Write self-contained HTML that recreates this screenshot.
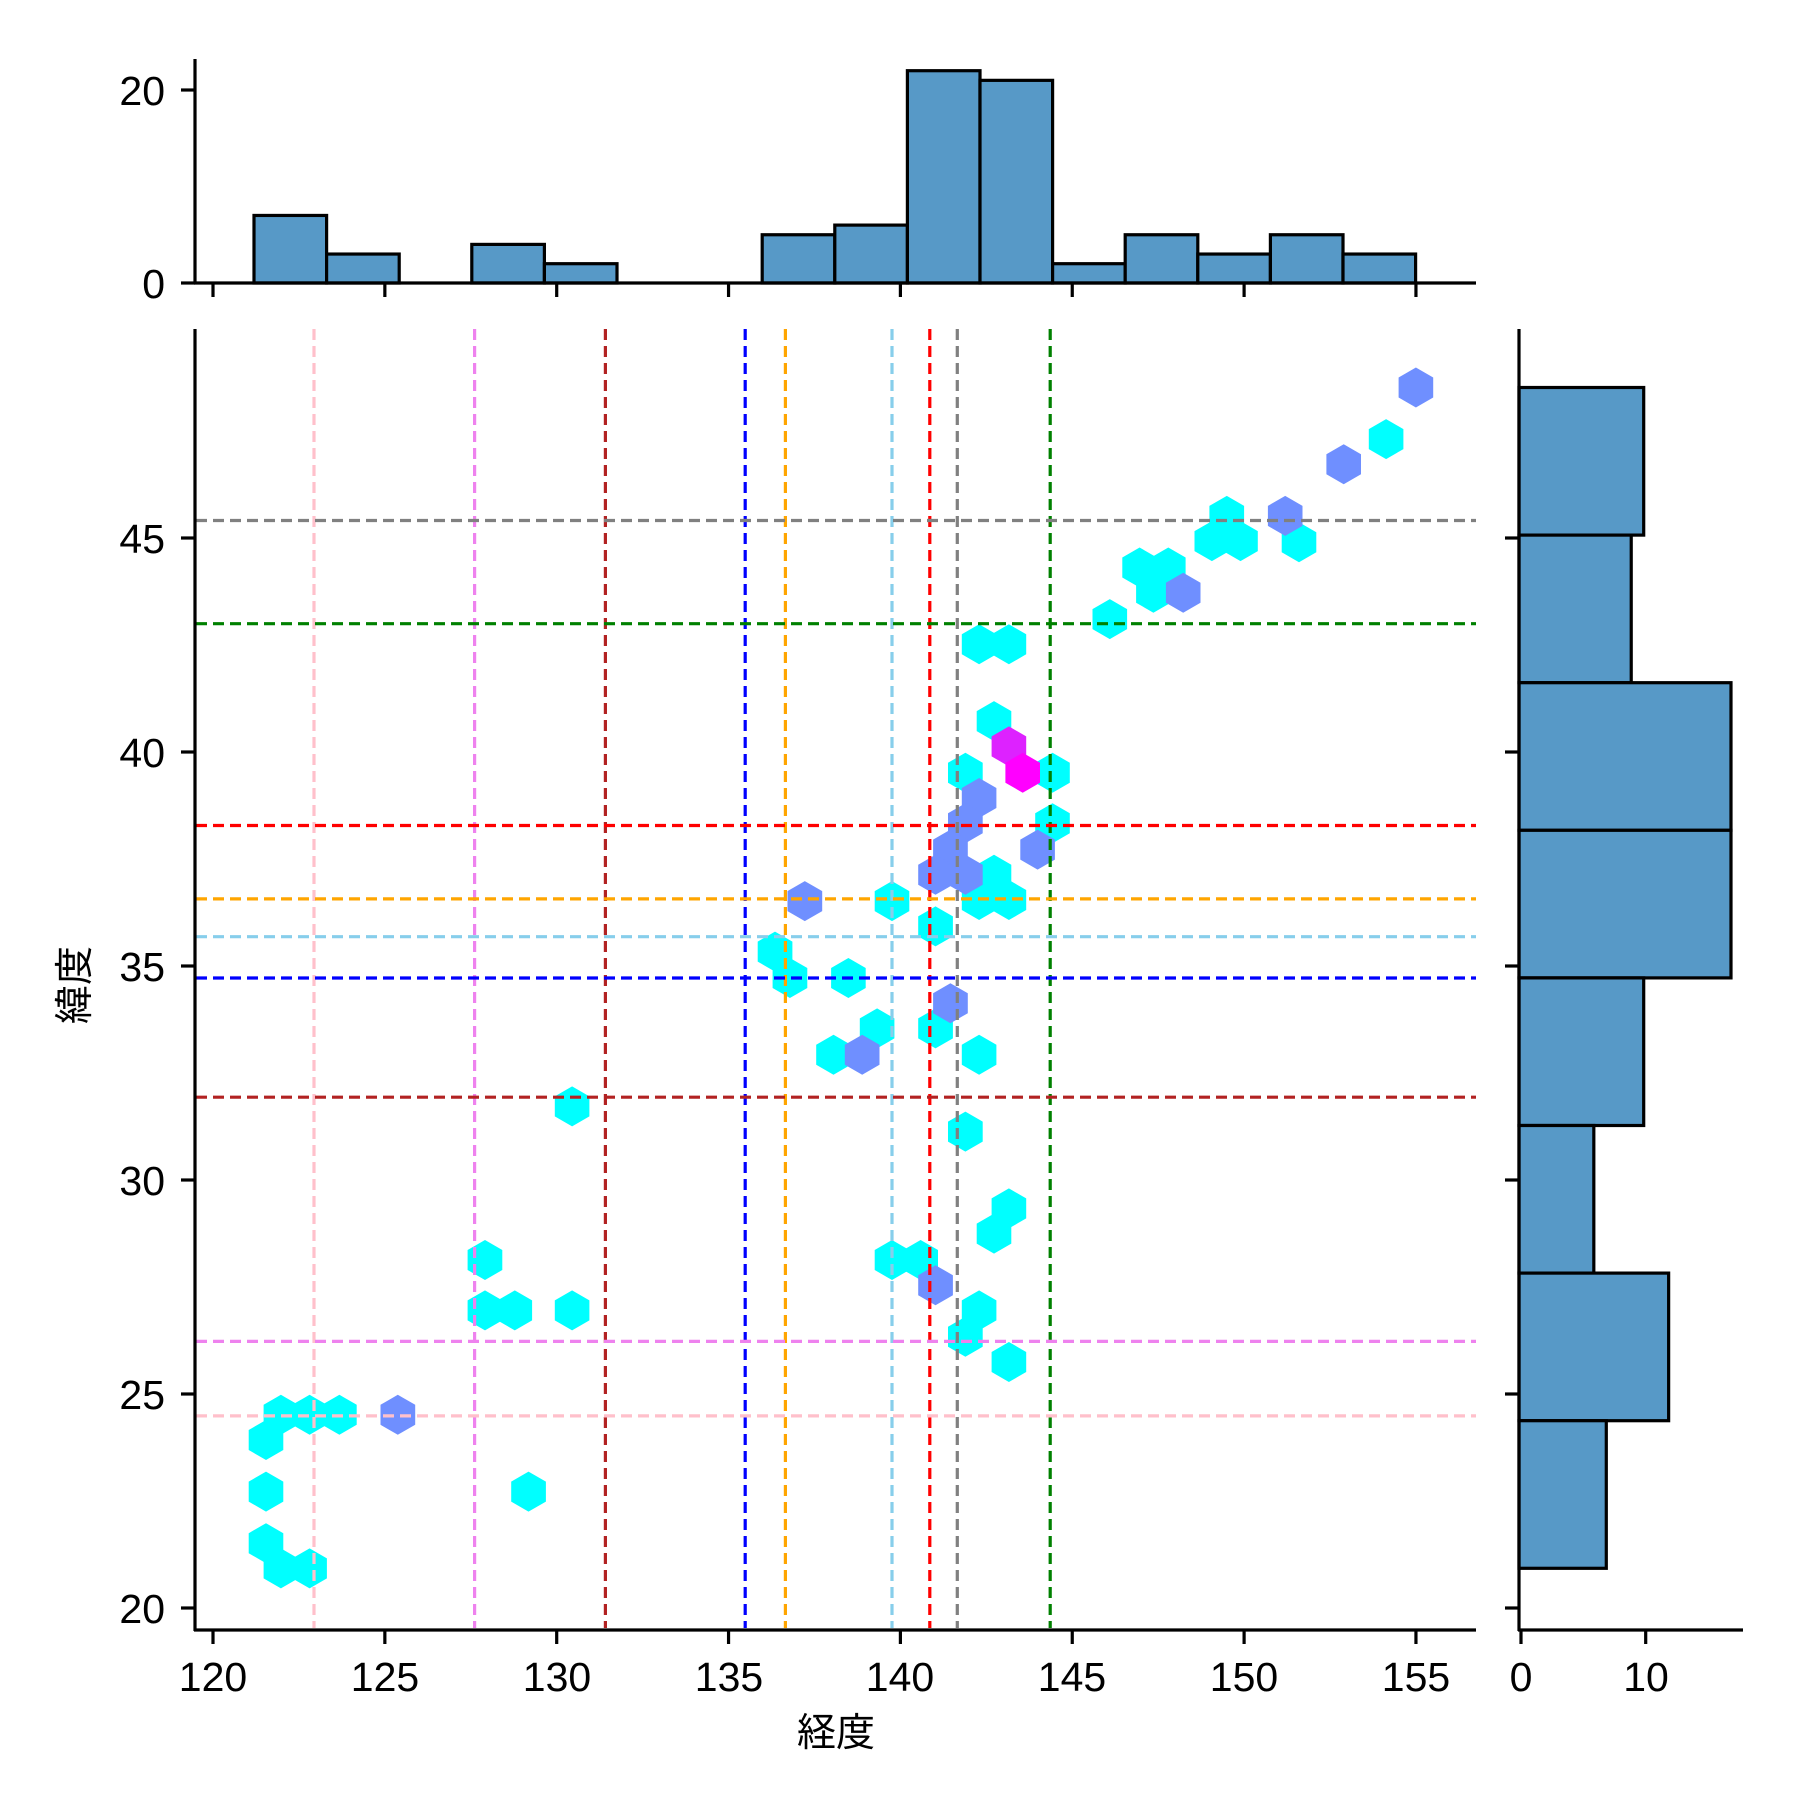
<!DOCTYPE html>
<html><head><meta charset="utf-8"><style>
html,body{margin:0;padding:0;background:#fff}
svg{display:block}
text{font-family:"Liberation Sans","Noto Sans CJK JP",sans-serif;font-size:41px;fill:#000}
</style></head><body>
<svg id="s" width="1800" height="1800" xmlns="http://www.w3.org/2000/svg">
<g id="hex"></g>
<g id="lines" stroke-width="3.2" stroke-dasharray="11,6" fill="none"></g>
<g id="bars" fill="#5799c7" stroke="#000" stroke-width="3.2"></g>
<g id="axes" stroke="#000" stroke-width="3.2" fill="none"></g>
<g text-anchor="middle">
<text x="213" y="1691">120</text><text x="385" y="1691">125</text><text x="557" y="1691">130</text><text x="729" y="1691">135</text><text x="900" y="1691">140</text><text x="1072" y="1691">145</text><text x="1244" y="1691">150</text><text x="1416" y="1691">155</text>
<text x="1521" y="1691">0</text><text x="1646" y="1691">10</text>
<text x="836" y="1746" style="font-size:39px">経度</text>
<text transform="translate(88,985) rotate(-90)" style="font-size:39px">緯度</text>
</g>
<g text-anchor="end">
<text x="165" y="1623">20</text><text x="165" y="1409">25</text><text x="165" y="1195">30</text><text x="165" y="981">35</text><text x="165" y="767">40</text><text x="165" y="553">45</text>
<text x="165" y="105">20</text><text x="165" y="298">0</text>
</g>
</svg>
<script>
var NS="http://www.w3.org/2000/svg";
function el(p,t,a){var e=document.createElementNS(NS,t);for(var k in a)e.setAttribute(k,a[k]);document.getElementById(p).appendChild(e);return e;}
var S=1.1465,R=20;
function hex(x,y,c){x*=S;y*=S;var pts=[];for(var i=0;i<6;i++){var a=Math.PI/3*i-Math.PI/2;pts.push((x+R*Math.cos(a)).toFixed(1)+","+(y+R*Math.sin(a)).toFixed(1));}el("hex","polygon",{points:pts.join(" "),fill:c});}
var cy=[[1209,383],[1070,450],[1057,472],[1082,472],[1133,473],[994,495],[1019,495],[1006,517],[968,540],[854,562],[880,562],[867,629],[842,674],[918,674],[918,718],[867,763],[854,785],[880,785],[778,786],[816,808],[676,830],[689,853],[765,897],[816,897],[727,920],[854,920],[842,987],[499,965],[880,1054],[867,1076],[423,1099],[778,1099],[803,1099],[423,1143],[449,1143],[499,1143],[854,1143],[842,1166],[880,1188],[245,1234],[270,1234],[296,1234],[232,1256],[232,1301],[461,1301],[232,1346],[245,1368],[270,1368],[740,853]];
cy.forEach(function(p){hex(p[0],p[1],"#00ffff")});
var bl=[[1235,338],[1172,405],[1121,450],[1032,517],[854,696],[842,718],[829,741],[816,763],[842,763],[905,741],[702,786],[829,875],[752,920],[816,1121],[347,1234]];
bl.forEach(function(p){hex(p[0],p[1],"#6f8fff")});
hex(880,651,"#dd22ff");hex(892,674,"#ff00ff");
var vl=[[314,"pink"],[474.6,"violet"],[605.4,"#b22222"],[745.2,"blue"],[785.4,"orange"],[892,"skyblue"],[929.8,"red"],[957.3,"gray"],[1050.2,"green"]];
vl.forEach(function(v){el("lines","line",{x1:v[0],x2:v[0],y1:329,y2:1628,stroke:v[1]})});
var hl=[[520.5,"gray"],[623.7,"green"],[825.5,"red"],[898.9,"orange"],[936.7,"skyblue"],[978,"blue"],[1097.2,"#b22222"],[1341.4,"violet"],[1415.9,"pink"]];
hl.forEach(function(v){el("lines","line",{x1:196,x2:1476,y1:v[0],y2:v[0],stroke:v[1]})});
var tc=[7,3,0,4,2,0,0,5,6,22,21,2,5,3,5,3];
tc.forEach(function(c,i){if(c>0)el("bars","rect",{x:254+i*72.6,y:283-c*9.65,width:72.6,height:c*9.65});});
var rc=[10,9,17,17,10,6,12,7];
rc.forEach(function(c,i){el("bars","rect",{x:1519,y:387.5+i*147.6,width:c*12.47,height:147.6});});
var ax=[[195,329,195,1631],[194,1630,1476,1630],[195,59,195,284],[194,283,1476,283],[1519,329,1519,1631],[1518,1630,1743,1630]];
ax.forEach(function(a){el("axes","line",{x1:a[0],y1:a[1],x2:a[2],y2:a[3]})});
for(var v=120;v<=155;v+=5){var x=213+(v-120)*34.37;el("axes","line",{x1:x,x2:x,y1:1630,y2:1644});el("axes","line",{x1:x,x2:x,y1:283,y2:297});}
for(var v=20;v<=45;v+=5){var y=1608-(v-20)*42.8;el("axes","line",{x1:181,x2:195,y1:y,y2:y});el("axes","line",{x1:1505,x2:1519,y1:y,y2:y});}
[[90],[283]].forEach(function(t){el("axes","line",{x1:181,x2:195,y1:t[0],y2:t[0]})});
[1521,1645.7].forEach(function(x){el("axes","line",{x1:x,x2:x,y1:1630,y2:1644})});
</script>
</body></html>
